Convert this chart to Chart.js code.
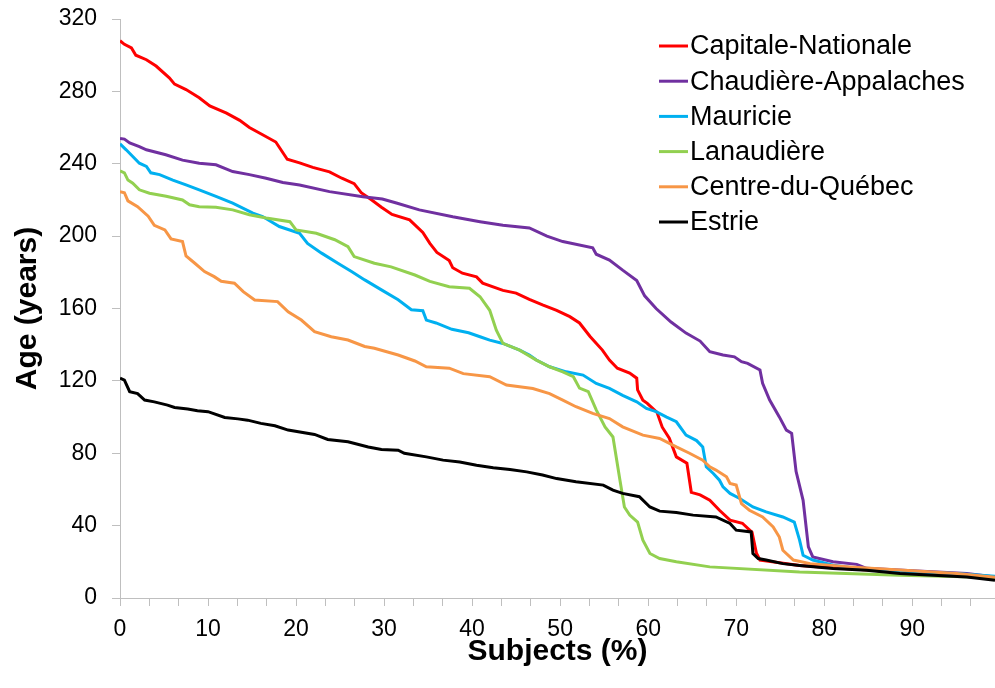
<!DOCTYPE html>
<html>
<head>
<meta charset="utf-8">
<script src="https://cdn.jsdelivr.net/npm/chart.js@4.4.1/dist/chart.umd.min.js"></script>
<style>
  html, body { margin: 0; padding: 0; background: #fff; }
  #wrap { width: 995px; height: 688px; }
</style>
</head>
<body>
<div id="wrap"><canvas id="ageChart"></canvas></div>
<script>
// region names (legend order)
var regions = ['Capitale-Nationale', 'Chaudière-Appalaches', 'Mauricie', 'Lanaudière', 'Centre-du-Québec', 'Estrie'];
var colors = ['#FF0000', '#7030A0', '#00B0F0', '#92D050', '#F79646', '#000000'];

// x tick labels (every third tick mark is labelled)
var xTickLabels = [0, 10, 20, 30, 40, 50, 60, 70, 80, 90];

// Capitale-Nationale
var capitaleX = [0, 0.5, 1.3, 1.8, 3, 4.1, 5.6, 6.2, 7.5, 9, 10.2, 12.1, 13.6, 14.7, 16.2, 17.7, 19, 20.4, 21.9, 23.8, 25.2, 26.6, 27.4, 28.6, 29.7, 30.9, 32.9, 34.4, 35.2, 36, 37.4, 37.8, 38.9, 40.5, 41.2, 43.5, 45, 46.5, 48, 49.6, 51.1, 52.2, 53.4, 54.8, 55.6, 56.5, 57.9, 58.7, 58.8, 59.4, 59.9, 61, 61.6, 62.4, 63.2, 64.4, 64.9, 65.9, 67, 68.1, 69.3, 70.7, 71.8, 72.3, 72.7, 74.1, 77.2, 80, 85, 90, 95, 99.4];
var capitaleY = [308, 306, 304, 300, 297.5, 294, 287.5, 284, 281, 276.5, 272, 268, 264, 260, 256, 252, 242.5, 240.5, 238, 235.5, 232, 229, 224, 220, 216, 212, 209, 202, 196, 191, 186.5, 182.5, 179.5, 177.5, 174, 170, 168.5, 165, 162, 159, 155.5, 152, 144.5, 137, 131.5, 127, 124.3, 121.5, 115, 109.3, 107.6, 102.6, 94.4, 88.3, 78, 74.5, 58.4, 57, 54, 48.5, 43, 41.3, 36.3, 24.7, 21, 20, 18, 17, 15.5, 14, 12.5, 10.5];

// Chaudière-Appalaches
var chaudiereX = [0, 0.5, 1.1, 2.2, 3, 5.2, 7.1, 9, 10.9, 12.8, 14.7, 16.6, 18.5, 20.4, 23.8, 27.6, 29.8, 31.4, 34, 37.8, 40.9, 43.5, 46.5, 48.5, 50.3, 53.7, 54.1, 55.6, 57.1, 58.7, 59.6, 60.9, 62.6, 64.3, 65.9, 67, 68.5, 69.8, 70.6, 71.3, 72.7, 73, 73.8, 74.9, 75.7, 76.3, 76.8, 77.6, 78.2, 78.7, 81, 83.7, 84.8, 90, 96.2, 99.4];
var chaudiereY = [254, 253.6, 251.5, 249.5, 247.7, 245, 242, 240.3, 239.4, 235.7, 234, 232, 229.6, 228.3, 224.6, 221.8, 220.5, 218.3, 214.5, 210.7, 208, 206, 204.5, 200, 197, 193.5, 190, 186.8, 181.2, 175.5, 167, 160, 152.5, 146.4, 142, 136.1, 134.3, 133.3, 130.6, 129.7, 126, 118.6, 109.4, 100.1, 92.8, 91, 70, 54, 28.2, 22.7, 20, 18.6, 16.4, 15, 13.6, 11.6];

// Mauricie
var mauricieX = [0, 0.7, 1.45, 2.2, 3, 3.5, 4.5, 6, 7.5, 9, 10.9, 12.8, 15.1, 16.2, 18.1, 20.4, 21.3, 22.9, 24.75, 26.3, 27.8, 29.7, 31.6, 33.1, 34.4, 34.8, 35.9, 37.7, 39.6, 40.9, 42, 43.5, 45.4, 46.5, 47.3, 48.8, 50.7, 52.6, 54.1, 55.6, 57.1, 58.7, 59.8, 60.9, 62.1, 63.2, 64.3, 65.5, 66.2, 66.6, 67.4, 68.1, 68.5, 69.3, 70.4, 71.9, 73.4, 75.3, 76.6, 77.2, 77.6, 78.7, 81, 84.8, 90.5, 95, 99.4];
var mauricieY = [251, 247.7, 244, 240.3, 238.5, 235, 234, 231, 228.3, 225.6, 222, 218.2, 212.7, 210.8, 205.3, 201.6, 196, 190.6, 185, 180.4, 175.8, 170.3, 164.8, 159.3, 158.8, 153.6, 152, 148.5, 146.6, 144.4, 142.5, 140.7, 137, 134.3, 131.5, 127.8, 125, 123.2, 118.6, 115.8, 112, 108.4, 104.8, 103, 100, 97.4, 90, 87, 83.5, 72.5, 68.8, 65.1, 61.4, 57.8, 55, 50.3, 47.6, 44.8, 42, 32, 23.6, 21, 18.1, 15.7, 14.4, 13.5, 12];

// Lanaudière
var lanaudiereX = [0, 0.5, 0.9, 1.45, 2.2, 3.35, 5.25, 7.1, 7.9, 9, 10.9, 12.8, 14.7, 16.6, 19.3, 20, 22.3, 24.4, 25.9, 26.6, 28.9, 30.8, 33.5, 35.2, 37.4, 39.7, 40.9, 42, 42.75, 43.5, 45.4, 47.3, 48.8, 50.3, 51.5, 52.2, 53.2, 54.1, 55.1, 56, 56.8, 57.3, 57.9, 58.8, 59.4, 60.2, 61.3, 63.2, 67, 77.2, 88.6, 99.4];
var lanaudiereY = [236, 235, 231, 229.3, 225.6, 223.7, 222, 220, 217.3, 216.3, 216, 214.5, 211.8, 210, 208, 203.4, 201.6, 198, 194.2, 188.7, 185, 183, 178.5, 175, 172, 171.2, 166.5, 159, 148, 140.7, 137, 131.5, 127.8, 125, 122.3, 116, 114, 104, 94.6, 89, 65, 50.3, 45.8, 42, 32, 24.6, 21.8, 20, 17.2, 14.4, 12.6, 11.3];

// Centre-du-Québec
var centreX = [0, 0.5, 0.9, 2, 3.2, 3.9, 5.1, 5.8, 7.1, 7.5, 8.5, 9.6, 10.7, 11.5, 13, 14, 15.3, 17.9, 19.1, 20.6, 22.1, 24, 25.9, 27.8, 28.9, 31.6, 33.5, 34.8, 37.4, 39, 42, 43.9, 46.9, 48.8, 50.3, 51.8, 53.7, 55.6, 57.1, 59.4, 61.3, 63.2, 64.7, 66.2, 67, 67.7, 68.9, 69.3, 70, 70.6, 71.5, 73, 74.2, 74.9, 75.3, 76.5, 78.4, 82.9, 90, 95, 99.4];
var centreY = [224.6, 224, 219.5, 216.3, 211, 206, 203.4, 198.5, 197, 189, 185, 180.4, 177.6, 175, 174, 169.3, 164.7, 163.8, 158.2, 153.6, 147.2, 144.4, 142.6, 139, 138, 134.3, 131, 127.8, 127, 124, 122.3, 117.7, 115.8, 113, 109.4, 105.7, 102, 99.2, 94.6, 90, 88.2, 83.5, 80, 76.2, 72.5, 70.7, 67, 63.3, 62.4, 52.2, 48.5, 44.8, 39.3, 33.7, 26.4, 21, 19, 17.2, 15, 13.5, 11.5];

// Estrie
var estrieX = [0, 0.5, 1.1, 2, 2.8, 3.9, 5.4, 6.2, 7.7, 8.8, 10, 11.9, 13.4, 14.5, 16, 17.6, 19.1, 22.1, 23.6, 25.9, 28.2, 29.7, 31.6, 32.3, 34.8, 36.7, 38.6, 40.5, 42.4, 44.3, 46.2, 48, 49.6, 51.8, 54.9, 56, 57.1, 59, 60.2, 61.3, 63.2, 65.1, 67.7, 69.3, 70, 71.7, 71.9, 72.5, 73.4, 75.3, 77.2, 81, 84.8, 88.6, 96.2, 99.4];
var estrieY = [121.5, 120.4, 114, 113, 109.4, 108.4, 106.6, 105.3, 104.4, 103.5, 103, 99.8, 99, 98.3, 96.5, 95.2, 92.8, 90.4, 87.6, 86.3, 83.5, 82.1, 81.7, 80, 78, 76.2, 75.2, 73.4, 72, 71, 69.7, 68, 66, 64.2, 62.4, 59.6, 57.8, 56, 50.3, 48, 47.2, 45.8, 44.8, 41.2, 37.5, 36.5, 24.6, 21.8, 21, 19, 18, 16.3, 15.3, 13.5, 11.6, 9.8];

var seriesX = [capitaleX, chaudiereX, mauricieX, lanaudiereX, centreX, estrieX];
var seriesY = [capitaleY, chaudiereY, mauricieY, lanaudiereY, centreY, estrieY];

var fontFamily = '"Liberation Sans", Arial, sans-serif';

// tick marks every 10/3 %, labels on every third one
var xTickValues = [];
for (var t = 0; t <= 29; t++) { xTickValues.push(t * 10 / 3); }

// legend drawn inside the plot area, top right
var insideLegend = {
    id: 'insideLegend',
    afterDraw: function(chart) {
        var ctx = chart.ctx;
        ctx.save();
        ctx.font = '27px ' + fontFamily;
        ctx.textBaseline = 'middle';
        ctx.textAlign = 'left';
        chart.data.datasets.forEach(function(ds, i) {
            var y = 46 + i * 35.2;
            ctx.strokeStyle = ds.borderColor;
            ctx.lineWidth = 3;
            ctx.beginPath();
            ctx.moveTo(659, y);
            ctx.lineTo(688, y);
            ctx.stroke();
            ctx.fillStyle = '#000';
            ctx.fillText(ds.label, 690, y + 1);
        });
        ctx.restore();
    }
};

var datasets = regions.map(function(name, i) {
    return {
        label: name,
        data: seriesX[i].map(function(x, j) { return { x: x, y: seriesY[i][j] }; }),
        borderColor: colors[i],
        backgroundColor: colors[i],
        borderWidth: 3,
        pointRadius: 0,
        tension: 0,
        order: regions.length - i  // later series on top, like the original
    };
});

var ctx = document.getElementById('ageChart').getContext('2d');
var ageChart = new Chart(ctx, {
    type: 'line',
    data: { datasets: datasets },
    plugins: [insideLegend],
    options: {
        responsive: true,
        maintainAspectRatio: false,
        animation: false,
        layout: { padding: { top: 19, right: 0, left: 0, bottom: 0 } },
        plugins: {
            legend: { display: false },
            tooltip: { enabled: false }
        },
        scales: {
            x: {
                type: 'linear',
                min: 0,
                max: 99.4,
                afterBuildTicks: function(scale) {
                    scale.ticks = xTickValues.map(function(v) { return { value: v }; });
                },
                afterFit: function(scale) { scale.height = 90; },
                ticks: {
                    autoSkip: false,
                    maxRotation: 0,
                    padding: 10,
                    color: '#000',
                    font: { family: fontFamily, size: 23 },
                    callback: function(value) {
                        var r = Math.round(value);
                        return (Math.abs(value - r) < 0.01 && xTickLabels.indexOf(r) >= 0) ? String(r) : '';
                    }
                },
                grid: { drawOnChartArea: false, drawTicks: true, tickLength: 8, color: '#BFBFBF' },
                border: { color: '#BFBFBF', width: 1 },
                title: {
                    display: true,
                    text: 'Subjects (%)',
                    color: '#000',
                    font: { family: fontFamily, size: 30, weight: 'bold' },
                    padding: { top: 0, bottom: 18 }
                }
            },
            y: {
                min: 0,
                max: 320,
                afterFit: function(scale) {
                    scale.width = 120;
                    scale.paddingTop = 0;
                    scale.paddingBottom = 0;
                },
                ticks: {
                    stepSize: 40,
                    padding: 15,
                    color: '#000',
                    font: { family: fontFamily, size: 23 }
                },
                grid: { drawOnChartArea: false, drawTicks: true, tickLength: 8, color: '#BFBFBF' },
                border: { color: '#BFBFBF', width: 1 },
                title: {
                    display: true,
                    text: 'Age (years)',
                    color: '#000',
                    font: { family: fontFamily, size: 30, weight: 'bold' },
                    padding: { top: 10, bottom: 0 }
                }
            }
        }
    }
});
</script>
</body>
</html>
